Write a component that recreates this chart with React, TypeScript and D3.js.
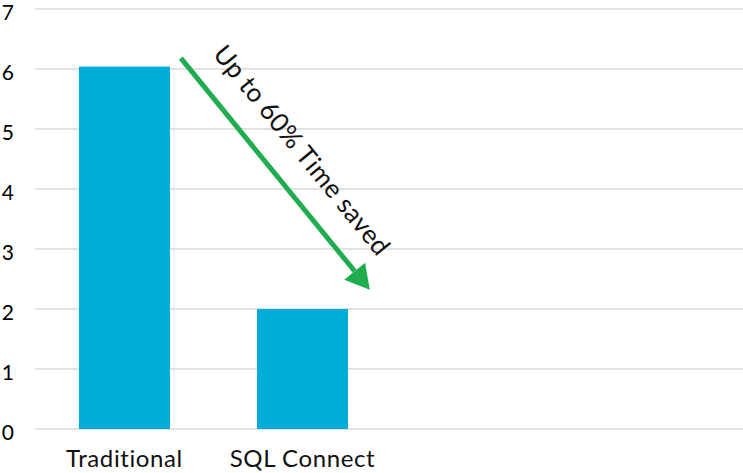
import React from "react";
import * as d3 from "d3";

const categories = ["Traditional", "SQL Connect", "", " "];
const values: (number | null)[] = [6.04, 2, null, null];
const yTicks = [0, 1, 2, 3, 4, 5, 6, 7];
const annotationText = "Up to 60% Time saved";
// arrow in data space: [category index, fraction of band width, value]
const arrowFrom = { band: 0, frac: 1.12, value: 6.18 };
const arrowTo = { band: 1, frac: 1.24, value: 2.32 };

const W = 743;
const H = 473;
const M = { left: 35, right: 0, top: 9, bottom: 44 };

export default function App() {
  const x = d3
    .scaleBand<string>()
    .domain(categories)
    .range([M.left, 748])
    .paddingInner(0.489)
    .paddingOuter(0.247);
  const y = d3.scaleLinear().domain([0, 7]).range([H - M.bottom, M.top]);
  const bw = x.bandwidth();

  const ax = (a: { band: number; frac: number; value: number }) =>
    (x(categories[a.band]) as number) + a.frac * bw;
  const x1 = ax(arrowFrom);
  const y1 = y(arrowFrom.value);
  const x2 = ax(arrowTo);
  const y2 = y(arrowTo.value);
  const ang = Math.atan2(y2 - y1, x2 - x1);
  const headLen = 24;
  const headHalf = 13.5;
  const bx = x2 - headLen * Math.cos(ang);
  const by = y2 - headLen * Math.sin(ang);
  const px = -Math.sin(ang);
  const py = Math.cos(ang);
  const head = [
    [x2, y2],
    [bx + px * headHalf, by + py * headHalf],
    [bx - px * headHalf, by - py * headHalf],
  ];
  const deg = (ang * 180) / Math.PI;
  const mx = (x1 + x2) / 2 + 19.5;
  const my = (y1 + y2) / 2 - 18;

  return (
    <svg
      width={W}
      height={H}
      style={{ position: "absolute", left: 0, top: 0, background: "#fff" }}
      fontFamily="Lato, 'Open Sans', sans-serif"
    >
      {yTicks.map((t) => (
        <g key={t}>
          <line
            x1={M.left}
            x2={W}
            y1={y(t)}
            y2={y(t)}
            stroke="#d9d9d9"
            strokeWidth={1.5}
          />
          <text
            x={14}
            y={y(t) + 11}
            textAnchor="end"
            fontSize={21}
            fill="#000"
          >
            {t}
          </text>
        </g>
      ))}
      {categories.map((c, i) =>
        values[i] == null ? null : (
          <rect
            key={c}
            x={x(c)}
            y={y(values[i] as number)}
            width={bw}
            height={y(0) - y(values[i] as number)}
            fill="#02acd8"
          />
        )
      )}
      {categories.map((c) => (
        <text
          key={"l" + c}
          x={(x(c) as number) + bw / 2}
          y={467}
          textAnchor="middle"
          fontSize={24}
          letterSpacing={0.6}
          fill="#111"
        >
          {c}
        </text>
      ))}
      <line x1={x1} y1={y1} x2={bx} y2={by} stroke="#1fad4f" strokeWidth={5} />
      <polygon points={head.map((p) => p.join(",")).join(" ")} fill="#1fad4f" />
      <text
        transform={`translate(${mx},${my}) rotate(${deg})`}
        textAnchor="middle"
        fontSize={26}
        letterSpacing={0.3}
        fill="#111"
      >
        {annotationText}
      </text>
    </svg>
  );
}
